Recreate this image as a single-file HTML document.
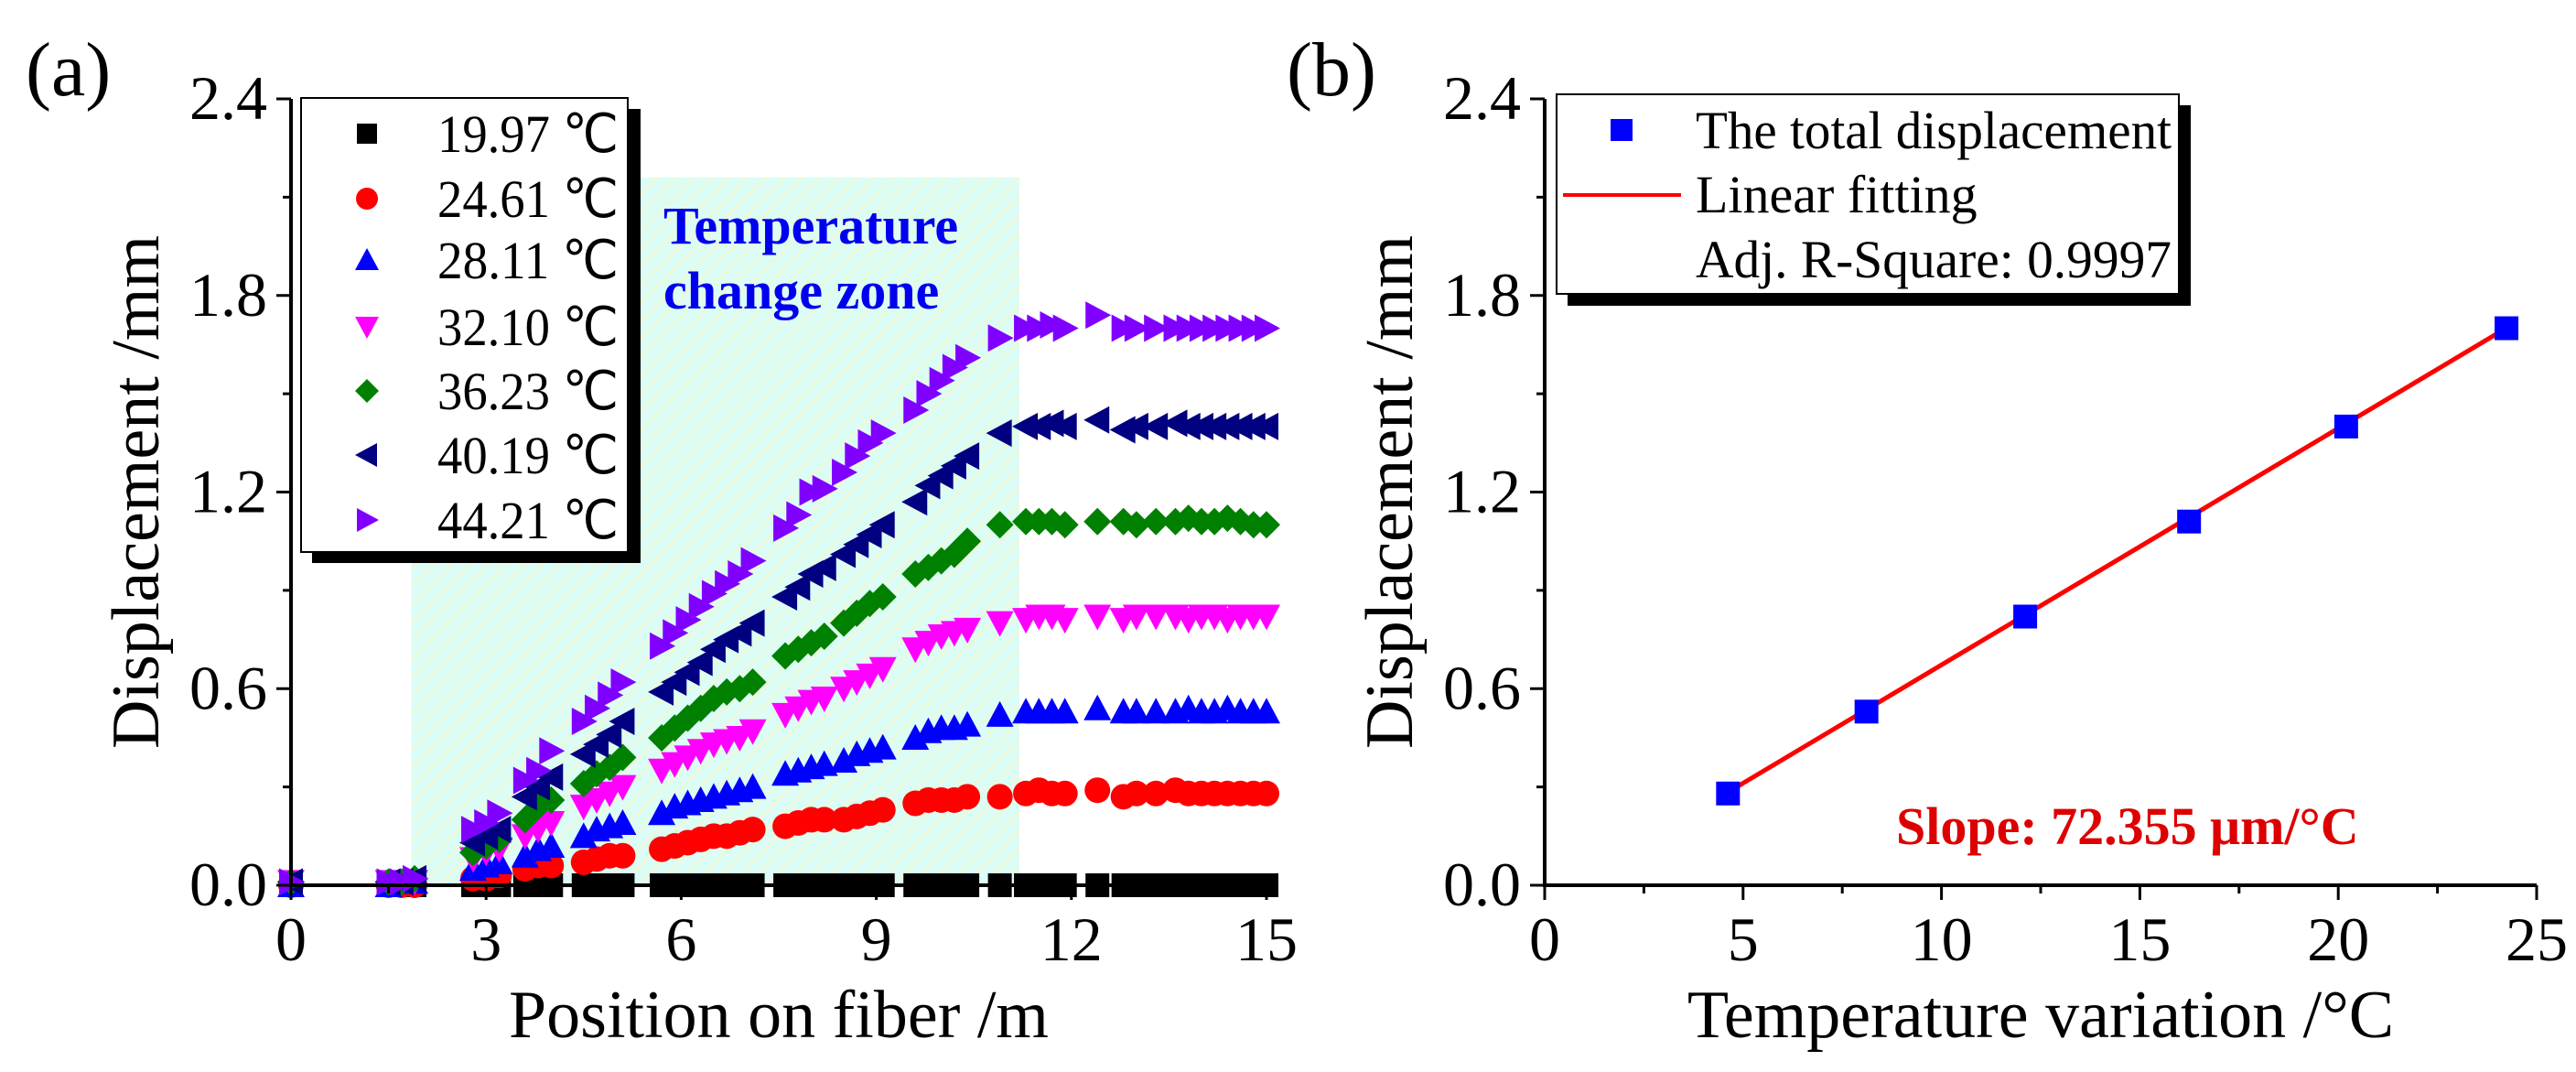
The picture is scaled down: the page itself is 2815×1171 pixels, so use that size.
<!DOCTYPE html>
<html><head><meta charset="utf-8"><style>
html,body{margin:0;padding:0;background:#fff;width:2815px;height:1171px;overflow:hidden}
svg, svg text{font-family:"Liberation Serif","Times New Roman","DejaVu Serif",serif}
</style></head><body>
<svg id="chart" width="2815" height="1171" viewBox="0 0 2815 1171" xmlns="http://www.w3.org/2000/svg" font-family="Liberation Serif, serif">
<defs>
<pattern id="hatch" width="14" height="14" patternUnits="userSpaceOnUse" patternTransform="rotate(45)">
<rect width="14" height="14" fill="#dcfdf5"/><line x1="0" y1="0" x2="0" y2="14" stroke="#eef8d8" stroke-width="5"/>
</pattern>
</defs>
<g id="pa"></g>
<g id="pb"></g>
</svg>
<script>
// ---- Panel (a) data ----
const aX = [0,1.5,1.7,1.9,2.8,3.0,3.2,3.6,3.8,4.0,4.5,4.7,4.9,5.1,5.7,5.9,6.1,6.3,6.5,6.7,6.9,7.1,7.6,7.8,8.0,8.2,8.5,8.7,8.9,9.1,9.6,9.8,10.0,10.2,10.4,10.9,11.3,11.5,11.7,11.9,12.4,12.8,13.0,13.3,13.6,13.8,14.0,14.2,14.4,14.6,14.8,15.0];
const s1997 = [0,0,0,0,0,0,0,0,0,0,0,0,0,0,0,0,0,0,0,0,0,0,0,0,0,0,0,0,0,0,0,0,0,0,0,0,0,0,0,0,0,0,0,0,0,0,0,0,0,0,0,0];
const s2461 = [0,0,0,0,0.02,0.02,0.03,0.05,0.06,0.06,0.07,0.08,0.09,0.09,0.11,0.12,0.13,0.14,0.15,0.15,0.16,0.17,0.18,0.19,0.20,0.20,0.20,0.21,0.22,0.23,0.25,0.26,0.26,0.26,0.27,0.27,0.28,0.29,0.28,0.28,0.29,0.27,0.28,0.28,0.29,0.28,0.28,0.28,0.28,0.28,0.28,0.28];
const s2811 = [0,0,0.01,0.01,0.05,0.06,0.07,0.09,0.11,0.12,0.15,0.17,0.18,0.19,0.22,0.24,0.25,0.26,0.27,0.28,0.29,0.30,0.34,0.35,0.36,0.37,0.38,0.40,0.41,0.42,0.45,0.47,0.48,0.48,0.49,0.52,0.53,0.53,0.53,0.53,0.54,0.53,0.53,0.53,0.53,0.54,0.53,0.53,0.54,0.53,0.53,0.53];
const s3210 = [0.01,0.01,0.01,0.01,0.08,0.10,0.11,0.15,0.17,0.19,0.24,0.26,0.28,0.30,0.35,0.37,0.39,0.41,0.43,0.44,0.45,0.47,0.52,0.54,0.56,0.57,0.60,0.62,0.64,0.66,0.72,0.74,0.76,0.77,0.78,0.80,0.81,0.82,0.82,0.81,0.82,0.81,0.82,0.82,0.82,0.81,0.82,0.82,0.81,0.82,0.82,0.82];
const s3623 = [0.01,0.01,0.01,0.02,0.10,0.12,0.14,0.20,0.24,0.26,0.31,0.34,0.36,0.39,0.45,0.48,0.51,0.54,0.57,0.59,0.60,0.62,0.70,0.72,0.74,0.76,0.80,0.83,0.86,0.88,0.95,0.97,0.99,1.01,1.05,1.10,1.11,1.11,1.11,1.10,1.11,1.11,1.10,1.11,1.11,1.12,1.11,1.11,1.12,1.11,1.10,1.10];
const s4019 = [0.01,0.01,0.01,0.02,0.13,0.15,0.17,0.27,0.30,0.33,0.40,0.43,0.46,0.50,0.59,0.62,0.65,0.68,0.72,0.75,0.77,0.80,0.88,0.91,0.95,0.97,1.01,1.04,1.07,1.10,1.17,1.22,1.25,1.28,1.31,1.38,1.40,1.40,1.41,1.40,1.42,1.39,1.40,1.40,1.41,1.40,1.40,1.40,1.40,1.40,1.40,1.40];
const s4421 = [0.01,0.01,0.01,0.02,0.17,0.19,0.22,0.32,0.35,0.41,0.50,0.54,0.58,0.62,0.73,0.77,0.81,0.85,0.89,0.92,0.95,0.99,1.09,1.13,1.20,1.21,1.26,1.31,1.35,1.38,1.45,1.50,1.54,1.58,1.61,1.67,1.70,1.70,1.71,1.70,1.74,1.70,1.70,1.70,1.70,1.70,1.70,1.70,1.70,1.70,1.70,1.70];
const aLabels = ["19.97 \u2103","24.61 \u2103","28.11 \u2103","32.10 \u2103","36.23 \u2103","40.19 \u2103","44.21 \u2103"];
const aXTicks = [0,3,6,9,12,15];
const yTicks = [0.0,0.6,1.2,1.8,2.4];
const zone = [1.85, 11.2, 2.16];
// ---- Panel (b) data ----
const bX = [4.62,8.11,12.11,16.24,20.2,24.24];
const bY = [0.28,0.53,0.82,1.11,1.40,1.70];
const fitSlope = 0.0722, fitIntercept = -0.0495;
const bXTicks = [0,5,10,15,20,25];

const NS="http://www.w3.org/2000/svg";
const FONT='"Liberation Serif", "Times New Roman", serif';
function mk(parent,tag,attrs,text){const e=document.createElementNS(NS,tag);for(const k in attrs)e.setAttribute(k,attrs[k]);if(text!==undefined){e.textContent=text;e.style.fontFamily=FONT;}parent.appendChild(e);return e;}

const A={l:318,r:1384,t:108,b:967,xmax:15};
const B={l:1688,r:2772,t:108,b:967,xmax:25};
function sx(P,v){return P.l+(P.r-P.l)*v/P.xmax;}
function sy(P,v){return P.b-(P.b-P.t)*v/2.4;}

function marker(g,type,x,y,c,s){
  s=s||15;let e;
  if(type==='sq')e=mk(g,'rect',{x:x-s+2,y:y-s+2,width:2*s-4,height:2*s-4,fill:c});
  else if(type==='ci')e=mk(g,'circle',{cx:x,cy:y,r:s-1,fill:c});
  else if(type==='up')e=mk(g,'polygon',{points:`${x},${y-s} ${x+s},${y+s-2} ${x-s},${y+s-2}`,fill:c});
  else if(type==='dn')e=mk(g,'polygon',{points:`${x},${y+s} ${x+s},${y-s+2} ${x-s},${y-s+2}`,fill:c});
  else if(type==='di')e=mk(g,'polygon',{points:`${x},${y-s} ${x+s},${y} ${x},${y+s} ${x-s},${y}`,fill:c});
  else if(type==='lt')e=mk(g,'polygon',{points:`${x-s},${y} ${x+s-2},${y-s} ${x+s-2},${y+s}`,fill:c});
  else if(type==='rt')e=mk(g,'polygon',{points:`${x+s},${y} ${x-s+2},${y-s} ${x-s+2},${y+s}`,fill:c});
  return e;
}

function axes(g,P,xt,minorStep,xTitle,panelLabel){
  for(let v=0;v<=P.xmax+1e-9;v+=minorStep){const x=sx(P,v);mk(g,'line',{x1:x,y1:P.b,x2:x,y2:P.b+(xt.includes(+v.toFixed(2))?16:9),stroke:'#000','stroke-width':3});}
  for(let v=0;v<=2.4001;v+=0.3){const y=sy(P,v);const maj=Math.abs(v/0.6-Math.round(v/0.6))<1e-6;mk(g,'line',{x1:P.l,y1:y,x2:P.l-(maj?16:9),y2:y,stroke:'#000','stroke-width':3});}
  mk(g,'line',{x1:P.l,y1:P.b,x2:P.r,y2:P.b,stroke:'#000','stroke-width':4});
  mk(g,'line',{x1:P.l,y1:P.b+2,x2:P.l,y2:P.t,stroke:'#000','stroke-width':4});
  xt.forEach(v=>{const t=mk(g,'text',{x:sx(P,v),y:1049,'font-size':68,'text-anchor':'middle'},String(v));
    });
  yTicks.forEach(v=>{const t=mk(g,'text',{x:P.l-26,y:sy(P,v)+22,'font-size':68,'text-anchor':'end'},v.toFixed(1));
    });
  const xtl=mk(g,'text',{x:(P.l+P.r)/2,y:1133,'font-size':74,'text-anchor':'middle'},xTitle);
  
  const cy=(P.t+P.b)/2;
  const ytl=mk(g,'text',{x:P.l-145,y:cy,'font-size':74,'text-anchor':'middle',transform:`rotate(-90 ${P.l-145} ${cy})`},'Displacement /mm');
  
  const pl=mk(g,'text',{x:P.l-(P===A?290:282),y:104,'font-size':84},panelLabel);
  
}

// Panel A
const ga=document.getElementById('pa');
const zr=mk(ga,'rect',{x:sx(A,zone[0]),y:sy(A,zone[2]),width:sx(A,zone[1])-sx(A,zone[0]),height:A.b-sy(A,zone[2]),fill:'url(#hatch)'});

const zt=mk(ga,'text',{x:725,y:266,'font-size':58,'font-weight':'bold',fill:'#0000ee'},'Temperature');

const zt2=mk(ga,'text',{x:725,y:337,'font-size':58,'font-weight':'bold',fill:'#0000ee'},'change zone');

const series=[[s1997,'sq','#000'],[s2461,'ci','#ff0000'],[s2811,'up','#0000ff'],[s3210,'dn','#ff00ff'],[s3623,'di','#008000'],[s4019,'lt','#000080'],[s4421,'rt','#8000ff']];
series.forEach(([vals,type,c],si)=>{
  const sg=mk(ga,'g',{});
  
  
  vals.forEach((v,i)=>{const m=marker(sg,type,sx(A,aX[i]),sy(A,v),c);
    });
});
axes(ga,A,aXTicks,1.5,'Position on fiber /m','(a)');
const la=mk(ga,'g',{});

mk(la,'rect',{x:341,y:119,width:359,height:496,fill:'#000'});
mk(la,'rect',{x:329,y:107,width:357,height:496,fill:'#fff',stroke:'#000','stroke-width':2});
const ly=[146,217,284,357,427,497,568];
series.forEach(([vals,type,c],i)=>{
  const eg=mk(la,'g',{});
  
  marker(eg,type,401,ly[i],c,13);
  mk(eg,'text',{x:478,y:ly[i]+20,'font-size':58,textLength:198,lengthAdjust:'spacingAndGlyphs'},aLabels[i]);
});

// Panel B
const gb=document.getElementById('pb');
axes(gb,B,bXTicks,2.5,'Temperature variation /\u00B0C','(b)');
const fl=mk(gb,'line',{x1:sx(B,bX[0]),y1:sy(B,fitSlope*bX[0]+fitIntercept),x2:sx(B,bX[bX.length-1]),y2:sy(B,fitSlope*bX[bX.length-1]+fitIntercept),stroke:'#ff0000','stroke-width':5});

bX.forEach((x,i)=>{const m=marker(gb,'sq',sx(B,x),sy(B,bY[i]),'#0000ff',15);
  });
const st=mk(gb,'text',{x:2072,y:922,'font-size':58,'font-weight':'bold',fill:'#dd0000'},'Slope: 72.355 \u03BCm/\u00B0C');

const lb=mk(gb,'g',{});

mk(lb,'rect',{x:1713,y:115,width:681,height:219,fill:'#000'});
mk(lb,'rect',{x:1701,y:103,width:680,height:218,fill:'#fff',stroke:'#000','stroke-width':2});
marker(lb,'sq',1772,142,'#0000ff',14);
mk(lb,'text',{x:1853,y:162,'font-size':58,textLength:520,lengthAdjust:'spacingAndGlyphs'},'The total displacement');
mk(lb,'line',{x1:1708,y1:213,x2:1837,y2:213,stroke:'#ff0000','stroke-width':4});
mk(lb,'text',{x:1853,y:232,'font-size':58},'Linear fitting');
mk(lb,'text',{x:1853,y:303,'font-size':58,textLength:520,lengthAdjust:'spacingAndGlyphs'},'Adj. R-Square: 0.9997');
</script>
</body></html>
